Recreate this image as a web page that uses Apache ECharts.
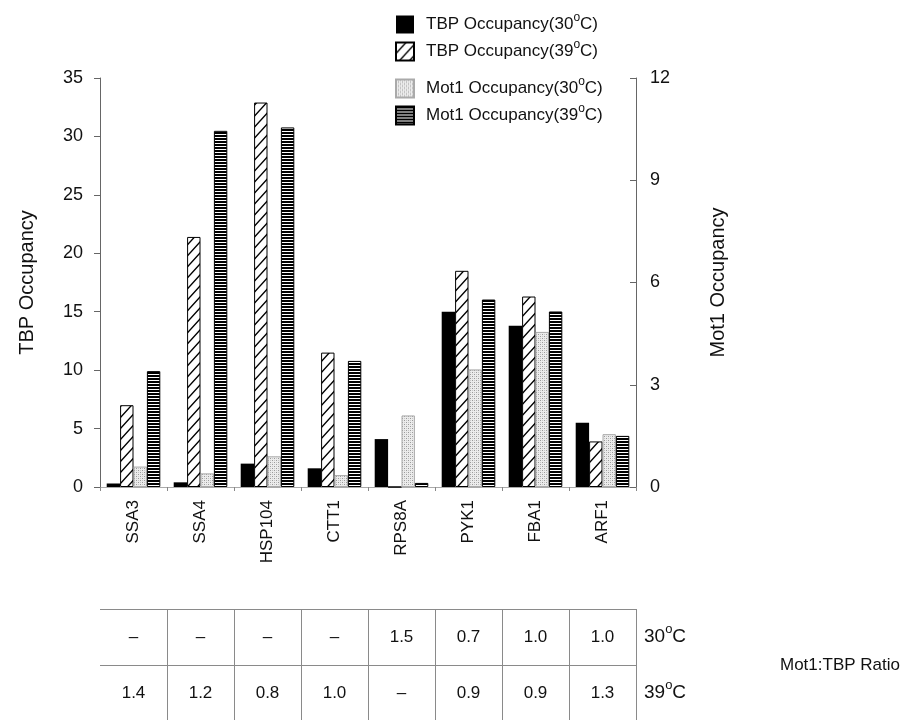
<!DOCTYPE html>
<html>
<head>
<meta charset="utf-8">
<script src="https://cdn.jsdelivr.net/npm/echarts@6/dist/echarts.min.js"></script>
<style>
  html, body { margin: 0; padding: 0; background: #fff; }
  #chart { width: 914px; height: 720px; }
</style>
</head>
<body>
<div id="chart"></div>
<script>
// Gene promoters on the category axis
const genes = ['SSA3', 'SSA4', 'HSP104', 'CTT1', 'RPS8A', 'PYK1', 'FBA1', 'ARF1'];

// TBP occupancy (left axis)
const tbp30 = [0.3, 0.4, 2.0, 1.6, 4.1, 15.0, 13.8, 5.5];
const tbp39 = [7.0, 21.4, 32.9, 11.5, 0.0, 18.5, 16.3, 3.9];

// Mot1 occupancy (right axis)
const mot30 = [0.6, 0.4, 0.9, 0.35, 2.1, 3.45, 4.55, 1.55];
const mot39 = [3.4, 10.45, 10.55, 3.7, 0.12, 5.5, 5.15, 1.5];

// Mot1:TBP ratio table
const ratio30 = ['–', '–', '–', '–', '1.5', '0.7', '1.0', '1.0'];
const ratio39 = ['1.4', '1.2', '0.8', '1.0', '–', '0.9', '0.9', '1.3'];
const rowLabels = ['30', '39'];

const seriesNames = ['TBP Occupancy(30°C)', 'TBP Occupancy(39°C)', 'Mot1 Occupancy(30°C)', 'Mot1 Occupancy(39°C)'];

const FONT = '"Liberation Sans", Arial, Helvetica, sans-serif';

// Fill patterns for the bars
function makePattern(w, h, draw) {
  const c = document.createElement('canvas');
  c.width = w; c.height = h;
  draw(c.getContext('2d'), w, h);
  return c;
}
const hatch = makePattern(10, 11, (g, w, h) => {
  g.fillStyle = '#fff'; g.fillRect(0, 0, w, h);
  g.strokeStyle = '#000'; g.lineWidth = 1.4;
  g.beginPath();
  g.moveTo(-1, h + 1.1); g.lineTo(w + 1, -1.1);
  g.moveTo(-1, 1.1); g.lineTo(1, -1.1);
  g.moveTo(w - 1, h + 1.1); g.lineTo(w + 1, h - 1.1);
  g.stroke();
});
const dots = makePattern(4, 4, (g, w, h) => {
  g.fillStyle = '#ececec'; g.fillRect(0, 0, w, h);
  g.fillStyle = '#9a9a9a'; g.fillRect(0, 0, 1, 1); g.fillRect(2, 2, 1, 1);
  g.fillStyle = '#c6c6c6'; g.fillRect(2, 0, 1, 1); g.fillRect(0, 2, 1, 1);
});
const hlines = makePattern(4, 3, (g, w, h) => {
  g.fillStyle = '#fff'; g.fillRect(0, 0, w, h);
  g.fillStyle = '#000'; g.fillRect(0, 0, w, 2);
});

// "30°C" written with a raised small "o" as the degree mark
function supName(name) {
  return name.replace(/(\d\d)°C/, '$1{o|o}C');
}
const supRich = { o: { fontSize: 12, verticalAlign: 'top', fontFamily: FONT, color: '#111' } };

const chart = echarts.init(document.getElementById('chart'), null, { renderer: 'canvas' });

const legendCommon = {
  orient: 'vertical', left: 395, padding: 0, itemWidth: 18, itemHeight: 18, itemGap: 2,
  selectedMode: false, icon: 'rect',
  formatter: supName,
  textStyle: { fontSize: 17, lineHeight: 25, color: '#111', fontFamily: FONT, padding: [0, 0, 0, 7], rich: supRich }
};

chart.setOption({
  animation: false,
  backgroundColor: '#fff',
  grid: { left: 100, right: 278, top: 78, bottom: 233 },
  legend: [
    Object.assign({}, legendCommon, { top: 12, data: seriesNames.slice(0, 2) }),
    Object.assign({}, legendCommon, { top: 76, data: seriesNames.slice(2, 4) })
  ],
  xAxis: {
    type: 'category', data: genes,
    axisLine: { lineStyle: { color: '#aaa', width: 1 } },
    axisTick: { show: true, length: 4, lineStyle: { color: '#888' } },
    axisLabel: { rotate: 90, margin: 13, fontSize: 17, color: '#111', fontFamily: FONT }
  },
  yAxis: [
    {
      type: 'value', min: 0, max: 35, interval: 5, position: 'left',
      name: 'TBP Occupancy', nameLocation: 'middle', nameGap: 63, nameRotate: 90,
      nameTextStyle: { fontSize: 20, color: '#111', fontFamily: FONT },
      axisLine: { show: true, lineStyle: { color: '#666', width: 1 } },
      axisTick: { show: true, length: 6, lineStyle: { color: '#666' } },
      axisLabel: { fontSize: 18, color: '#111', fontFamily: FONT, margin: 17 },
      splitLine: { show: false }
    },
    {
      type: 'value', min: 0, max: 12, interval: 3, position: 'right',
      name: 'Mot1 Occupancy', nameLocation: 'middle', nameGap: 72, nameRotate: 90,
      nameTextStyle: { fontSize: 20, color: '#111', fontFamily: FONT },
      axisLine: { show: true, lineStyle: { color: '#666', width: 1 } },
      axisTick: { show: true, length: 6, inside: true, lineStyle: { color: '#666' } },
      axisLabel: { fontSize: 18, color: '#111', fontFamily: FONT, margin: 14 },
      splitLine: { show: false }
    }
  ],
  series: [
    { name: seriesNames[0], type: 'bar', yAxisIndex: 0, data: tbp30,
      barGap: '0%', barCategoryGap: '20%',
      itemStyle: { color: '#000' } },
    { name: seriesNames[1], type: 'bar', yAxisIndex: 0, data: tbp39,
      itemStyle: { color: { image: hatch, repeat: 'repeat' }, borderColor: '#000', borderWidth: 1 } },
    { name: seriesNames[2], type: 'bar', yAxisIndex: 1, data: mot30,
      itemStyle: { color: { image: dots, repeat: 'repeat' }, borderColor: '#aaa', borderWidth: 1 } },
    { name: seriesNames[3], type: 'bar', yAxisIndex: 1, data: mot39,
      itemStyle: { color: { image: hlines, repeat: 'repeat' }, borderColor: '#000', borderWidth: 1 } }
  ]
});

// Ratio table below the category labels, aligned to the category bands
(function drawTable() {
  const centers = genes.map((g, i) => chart.convertToPixel({ xAxisIndex: 0 }, i));
  const band = centers[1] - centers[0];
  const xLeft = centers[0] - band / 2;
  const xRight = centers[centers.length - 1] + band / 2;
  const yTop = 609, yMid = 665, yBottom = 720;
  const rowY = [637, 693];
  const lineStyle = { stroke: '#8a8a8a', lineWidth: 1 };
  const els = [];
  els.push({ type: 'line', shape: { x1: xLeft, y1: yTop + 0.5, x2: xRight, y2: yTop + 0.5 }, style: lineStyle, silent: true });
  els.push({ type: 'line', shape: { x1: xLeft, y1: yMid + 0.5, x2: xRight, y2: yMid + 0.5 }, style: lineStyle, silent: true });
  for (let i = 1; i <= genes.length; i++) {
    const x = Math.round(xLeft + band * i) + 0.5;
    els.push({ type: 'line', shape: { x1: x, y1: yTop, x2: x, y2: yBottom }, style: lineStyle, silent: true });
  }
  [ratio30, ratio39].forEach((row, r) => {
    row.forEach((v, i) => {
      els.push({ type: 'text', x: centers[i], y: rowY[r], silent: true,
        style: { text: v, fill: '#111', font: '17px ' + FONT, align: 'center', verticalAlign: 'middle' } });
    });
    els.push({ type: 'text', x: xRight + 8, y: rowY[r], silent: true,
      style: { text: rowLabels[r] + '{o|o}C', fill: '#111', font: '19px ' + FONT, lineHeight: 28,
        align: 'left', verticalAlign: 'middle',
        rich: { o: { fontSize: 13, verticalAlign: 'top', fontFamily: FONT, fill: '#111' } } } });
  });
  els.push({ type: 'text', x: 780, y: yMid, silent: true,
    style: { text: 'Mot1:TBP Ratio', fill: '#111', font: '17px ' + FONT, align: 'left', verticalAlign: 'middle' } });
  chart.setOption({ graphic: els });
})();
</script>
</body>
</html>
